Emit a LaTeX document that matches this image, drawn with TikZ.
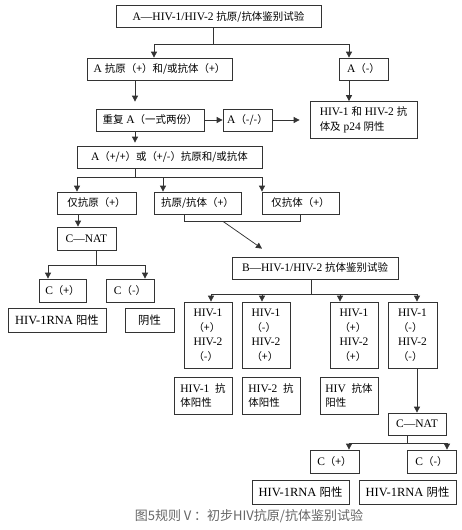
\documentclass[tikz,border=0pt]{standalone}
\usepackage{fontspec}
\setmainfont{Liberation Serif}
\newfontfamily\zhfont[Scale=0.91]{Noto Sans CJK SC}
\newcommand{\zh}[1]{{\zhfont #1}}
\usetikzlibrary{arrows.meta}

\begin{document}
\begin{tikzpicture}[x=1pt,y=-1pt]
    \tikzstyle{box} = [draw=black!80,line width=0.75pt,inner sep=0pt,minimum height=22,font=\fontsize{11.5}{14.5}\selectfont,align=center]
    \tikzstyle{ln} = [draw=black!80,line width=0.75pt]
    \tikzstyle{arr} = [ln,-{Triangle[length=6pt,width=6pt]}]
    \useasboundingbox (0,0) rectangle (462,530);

    % first test
    \node[box,minimum width=205] (top) at (218.5,16.5) {A—HIV-1/HIV-2 \zh{抗原/抗体鉴别试验}};
    \node[box,minimum width=145] (apos) at (159.5,69) {A \zh{抗原（+）和/或抗体（+）}};
    \node[box,minimum width=49] (aneg) at (363.5,69) {A\zh{（-）}};
    \node[box,minimum width=108] (rep) at (150,120) {\zh{重复} A\zh{（一式两份）}};
    \node[box,minimum width=49] (amm) at (247.5,120) {A\zh{（-/-）}};
    \node[box,minimum width=107,minimum height=37,align=left] (neg) at (363.5,120) {HIV-1 \zh{和} HIV-2 \zh{抗}\\\zh{体及} p24 \zh{阴性}};
    \node[box,minimum width=185] (app) at (169.5,157) {A\zh{（+/+）或（+/-）抗原和/或抗体}};

    \node[box,minimum width=79] (agonly) at (96.5,203) {\zh{仅抗原（+）}};
    \node[box,minimum width=87] (agab) at (197.5,203) {\zh{抗原/抗体（+）}};
    \node[box,minimum width=77] (abonly) at (300.5,203) {\zh{仅抗体（+）}};

    % antigen only branch
    \node[box,minimum width=59,minimum height=23] (nat1) at (86.5,238.5) {C—NAT};
    \node[box,minimum width=47,minimum height=23] (cp1) at (62.5,290.5) {C\zh{（+）}};
    \node[box,minimum width=48,minimum height=23] (cn1) at (130,290.5) {C\zh{（-）}};
    \node[box,minimum width=98,minimum height=24,font=\fontsize{12.5}{14}\selectfont] (rna1) at (57,320) {HIV-1RNA \zh{阳性}};
    \node[box,minimum width=49,minimum height=24,font=\fontsize{12.5}{14}\selectfont] (neg1) at (149.5,320) {\zh{阴性}};

    % second test
    \node[box,minimum width=166] (btest) at (315,268) {B—HIV-1/HIV-2 \zh{抗体鉴别试验}};
    \node[box,minimum width=48,minimum height=66,align=left] (w1) at (208,335) {HIV-1\\\zh{（+）}\\HIV-2\\\zh{（-）}};
    \node[box,minimum width=48,minimum height=66,align=left] (w2) at (266,335) {HIV-1\\\zh{（-）}\\HIV-2\\\zh{（+）}};
    \node[box,minimum width=48,minimum height=66,align=left] (w3) at (354,335) {HIV-1\\\zh{（+）}\\HIV-2\\\zh{（+）}};
    \node[box,minimum width=49,minimum height=66,align=left] (w4) at (412.5,335) {HIV-1\\\zh{（-）}\\HIV-2\\\zh{（-）}};
    \node[box,minimum width=58,minimum height=37,align=left] (r1) at (203,395.5) {HIV-1\ \ \zh{抗}\\\zh{体阳性}};
    \node[box,minimum width=58,minimum height=37,align=left] (r2) at (271,395.5) {HIV-2\ \ \zh{抗}\\\zh{体阳性}};
    \node[box,minimum width=58,minimum height=37,align=left] (r3) at (349,395.5) {HIV\ \ \zh{抗体}\\\zh{阳性}};

    \node[box,minimum width=58] (nat2) at (417,424) {C—NAT};
    \node[box,minimum width=49,minimum height=23] (cp2) at (334.5,461.5) {C\zh{（+）}};
    \node[box,minimum width=49,minimum height=23] (cn2) at (431.5,461.5) {C\zh{（-）}};
    \node[box,minimum width=97,minimum height=24,font=\fontsize{12.5}{14}\selectfont] (rna2) at (300.5,492) {HIV-1RNA \zh{阳性}};
    \node[box,minimum width=97,minimum height=24,font=\fontsize{12.5}{14}\selectfont] (rna3) at (407.5,492) {HIV-1RNA \zh{阴性}};

    \node[font=\zhfont\fontsize{14.3}{14}\selectfont,text=black!60] (cap) at (249,516) {图5规则Ⅴ：初步HIV抗原/抗体鉴别试验};

    % connectors
    \draw[ln] ([xshift=-5.5]top.south) -- ++(0,16) coordinate (s1);
    \draw[arr] (s1) -| ([xshift=-5.5]apos.north);
    \draw[arr] (s1) -| ([xshift=-14.5]aneg.north);
    \draw[arr] ([xshift=-14.5]aneg.south) -- ([xshift=-14.5]aneg.south |- neg.north);
    \draw[arr] ([xshift=-24.5]apos.south) -- ([xshift=-15,yshift=7]rep.north);
    \draw[arr] (rep) -- (amm);
    \draw[arr] (amm) -- ([xshift=-10]neg.west);
    \draw[arr] ([xshift=-15]rep.south) -- ([xshift=-34.5,yshift=3]app.north);

    \draw[ln] ([xshift=-34.5]app.south) -- ++(0,9) coordinate (s2);
    \draw[arr] (s2) -| ([xshift=-19.5]agonly.north);
    \draw[arr] (s2) -| ([xshift=-34.5]agab.north);
    \draw[arr] (s2) -| ([xshift=-38.5]abonly.north);
    \draw[ln] ([xshift=-13.5]agab.south) -- ++(0,7) -| (abonly.south);
    \draw[arr] ([xshift=25.5,yshift=-7]agab.south) -- ([xshift=-53,yshift=8]btest.north);

    \draw[arr] ([xshift=-18.5]agonly.south) -- ([xshift=-8.5]nat1.north);
    \draw[ln] ([xshift=9.5]nat1.south) -- ++(0,15) coordinate (s3);
    \draw[arr] (s3) -| ([xshift=-14.5]cp1.north);
    \draw[arr] (s3) -| ([xshift=15]cn1.north);

    \draw[ln] ([xshift=-4]btest.south) -- ++(0,15) coordinate (s4);
    \draw[arr] (s4) -| ([xshift=3]w1.north);
    \draw[arr] (s4) -| ([xshift=-4]w2.north);
    \draw[arr] (s4) -| ([xshift=-14]w3.north);
    \draw[arr] (s4) -| ([xshift=4.5]w4.north);

    \draw[arr] ([xshift=4.5]w4.south) -- (nat2.north);
    \draw[ln] ([xshift=-10]nat2.south) -- ++(0,8) coordinate (s5);
    \draw[arr] (s5) -| ([xshift=14.5]cp2.north);
    \draw[arr] (s5) -| ([xshift=15.5]cn2.north);
\end{tikzpicture}
\end{document}
